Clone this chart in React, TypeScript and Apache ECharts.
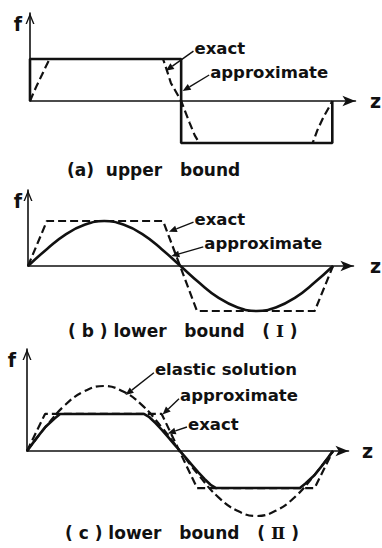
import React, { useEffect, useRef } from 'react';
import * as echarts from 'echarts';

// (a) upper bound — step approximation and exact profile, z in units of the span
const upperApprox: number[][] = [[0, 0], [0, 1], [0.5, 1], [0.5, -1], [1, -1], [1, 0]];
const upperExact: number[][] = [
  [0, 0], [0.02, 0.33], [0.04, 0.63], [0.055, 0.86], [0.065, 1],
  [0.44, 1], [0.447, 0.86], [0.466, 0.43], [0.5, 0], [0.528, -0.52], [0.545, -0.82], [0.56, -1],
  [0.935, -1], [0.951, -0.69], [0.971, -0.38], [0.99, -0.14], [1, 0],
];

// (b) lower bound (I)
const lowerApproxI: number[][] = [
  [0, 0], [0.0625, 0.38], [0.125, 0.71], [0.1875, 0.92], [0.25, 1], [0.3125, 0.92], [0.375, 0.71],
  [0.4375, 0.38], [0.5, 0], [0.5625, -0.38], [0.625, -0.71], [0.6875, -0.92], [0.75, -1],
  [0.8125, -0.92], [0.875, -0.71], [0.9375, -0.38], [1, 0],
];
const lowerExactI: number[][] = [[0, 0], [0.062, 1], [0.443, 1], [0.554, -1], [0.94, -1], [1, 0]];

// (c) lower bound (II)
const elasticSolution: number[][] = [
  [0, 0], [0.0625, 0.38], [0.125, 0.71], [0.1875, 0.92], [0.25, 1], [0.3125, 0.92], [0.375, 0.71],
  [0.4375, 0.38], [0.5, 0], [0.5625, -0.38], [0.625, -0.71], [0.6875, -0.92], [0.75, -1],
  [0.8125, -0.92], [0.875, -0.71], [0.9375, -0.38], [1, 0],
];
const lowerApproxII: number[][] = [[0, 0], [0.059, 0.57], [0.44, 0.57], [0.556, -0.57], [0.94, -0.57], [1, 0]];
const lowerExactII: number[][] = [
  [0, 0], [0.03, 0.19], [0.06, 0.37], [0.09, 0.5], [0.108, 0.57],
  [0.382, 0.57], [0.4, 0.52], [0.42, 0.43], [0.44, 0.33], [0.46, 0.22], [0.48, 0.11], [0.5, 0],
  [0.52, -0.11], [0.54, -0.22], [0.56, -0.33], [0.58, -0.43], [0.6, -0.52], [0.618, -0.57],
  [0.892, -0.57], [0.91, -0.5], [0.94, -0.37], [0.97, -0.19], [1, 0],
];

// Panel captions; the roman numerals are set in a serif face
const captions = ['(a)  upper   bound', '( b ) lower   bound   ( {r|Ⅰ} )', '( c ) lower   bound   ( {r|Ⅱ} )'];

// Leader labels: text anchor (left-middle) and arrow tip, both in data units of the panel
const notes = [
  [
    { text: 'exact', at: [0.544, 1.26], tip: [0.4495, 0.72] },
    { text: 'approximate', at: [0.596, 0.69], tip: [0.505, 0.24] },
  ],
  [
    { text: 'exact', at: [0.546, 1.04], tip: [0.462, 0.76] },
    { text: 'approximate', at: [0.578, 0.49], tip: [0.47, 0.22] },
  ],
  [
    { text: 'elastic solution', at: [0.418, 1.25], tip: [0.322, 0.86] },
    { text: 'approximate', at: [0.5, 0.85], tip: [0.443, 0.56] },
    { text: 'exact', at: [0.526, 0.415], tip: [0.46, 0.27] },
  ],
];

const FONT = '"DejaVu Sans", sans-serif';
const SERIF = '"DejaVu Serif", "Liberation Serif", serif';
const INK = '#111';

// Pixel layout of the three stacked panels
const panels = [
  { left: 30, originY: 101, unitX: 307, unitY: 42, tipY: 13, tipX: 367, zGap: 8, fPad: 8, capX: 67, capY: 170 },
  { left: 28, originY: 266, unitX: 306, unitY: 45, tipY: 190, tipX: 361, zGap: 10, fPad: 6, capX: 68, capY: 331 },
  { left: 27, originY: 451, unitX: 306, unitY: 65, tipY: 349, tipX: 355, zGap: 7, fPad: 11, capX: 65, capY: 533 },
];

const ARROW_H = 13;
const CHEVRON = 'path://M0,12 L5,0 L10,12 L8.4,12 L5,3.8 L1.6,12 Z';

export default function App() {
  const ref = useRef<HTMLDivElement>(null);

  useEffect(() => {
    const chart = echarts.init(ref.current!, null, { renderer: 'svg' });

    const grids = panels.map((p) => ({
      left: p.left,
      top: p.tipY,
      width: p.tipX - ARROW_H / 2 - p.left,
      height: p.originY - p.tipY,
    }));

    const xAxes = panels.map((p, i) => ({
      type: 'value',
      gridIndex: i,
      min: 0,
      max: grids[i].width / p.unitX,
      name: 'z',
      nameLocation: 'end',
      nameGap: p.zGap + ARROW_H / 2,
      nameTextStyle: { fontFamily: FONT, fontWeight: 'bold', fontSize: 19, color: INK, verticalAlign: 'middle' },
      axisLine: {
        show: true,
        onZero: false,
        symbol: ['none', 'arrow'],
        symbolSize: [8, ARROW_H],
        lineStyle: { color: INK, width: 1.6 },
      },
      axisTick: { show: false },
      axisLabel: { show: false },
      splitLine: { show: false },
    }));

    const yAxes = panels.map((p, i) => ({
      type: 'value',
      gridIndex: i,
      min: 0,
      max: grids[i].height / p.unitY,
      name: 'f',
      nameLocation: 'end',
      nameGap: -1,
      nameTextStyle: {
        fontFamily: FONT, fontWeight: 'bold', fontSize: 19, color: INK,
        align: 'right', verticalAlign: 'top', padding: [0, p.fPad, 0, 0],
      },
      axisLine: {
        show: true,
        onZero: false,
        symbol: ['none', CHEVRON],
        symbolSize: [9, 11],
        symbolOffset: [0, -5.5],
        lineStyle: { color: INK, width: 1.6 },
      },
      axisTick: { show: false },
      axisLabel: { show: false },
      splitLine: { show: false },
    }));

    const solid = { color: INK, width: 2.6, type: 'solid' as const };
    const dashed = { color: INK, width: 2.2, type: [8, 4] };

    const line = (name: string, idx: number, data: number[][], style: any, smooth: boolean, z: number) => ({
      name,
      type: 'line',
      xAxisIndex: idx,
      yAxisIndex: idx,
      data,
      smooth: smooth ? 0.45 : false,
      showSymbol: false,
      symbol: 'none',
      clip: false,
      lineStyle: style,
      z,
      silent: true,
    });

    chart.setOption({
      animation: false,
      backgroundColor: '#fff',
      grid: grids,
      xAxis: xAxes,
      yAxis: yAxes,
      series: [
        line('exact', 0, upperExact, dashed, false, 2),
        line('approximate', 0, upperApprox, solid, false, 3),
        line('exact', 1, lowerExactI, dashed, false, 2),
        line('approximate', 1, lowerApproxI, solid, true, 3),
        line('elastic solution', 2, elasticSolution, dashed, true, 2),
        line('approximate', 2, lowerApproxII, dashed, false, 2),
        line('exact', 2, lowerExactII, solid, false, 3),
      ],
    });

    // Leader arrows and captions, positioned through the panels' own scales
    const elements: any[] = [];
    notes.forEach((group, gi) => {
      group.forEach((n) => {
        const a = chart.convertToPixel({ gridIndex: gi }, n.at) as number[];
        const t = chart.convertToPixel({ gridIndex: gi }, n.tip) as number[];
        elements.push({
          type: 'text',
          x: a[0],
          y: a[1],
          style: { text: n.text, font: `bold 16.5px ${FONT}`, fill: INK, align: 'left', verticalAlign: 'middle' },
          z: 10,
        });
        const s = [a[0] - 1, a[1] + 3];
        const dx = t[0] - s[0];
        const dy = t[1] - s[1];
        const len = Math.hypot(dx, dy);
        const ux = dx / len;
        const uy = dy / len;
        const headL = 8;
        const headW = 3.4;
        const b = [t[0] - ux * headL, t[1] - uy * headL];
        elements.push({
          type: 'line',
          shape: { x1: s[0], y1: s[1], x2: b[0], y2: b[1] },
          style: { stroke: INK, lineWidth: 1.4 },
          z: 10,
        });
        elements.push({
          type: 'polygon',
          shape: {
            points: [
              [t[0], t[1]],
              [b[0] - uy * headW, b[1] + ux * headW],
              [b[0] + uy * headW, b[1] - ux * headW],
            ],
          },
          style: { fill: INK },
          z: 10,
        });
      });
    });
    captions.forEach((c, i) => {
      elements.push({
        type: 'text',
        x: panels[i].capX,
        y: panels[i].capY,
        style: {
          text: c,
          font: `bold 17px ${FONT}`,
          fill: INK,
          align: 'left',
          verticalAlign: 'middle',
          rich: { r: { fontFamily: SERIF, fontWeight: 'bold', fontSize: 17, fill: INK } },
        },
        z: 10,
      });
    });
    chart.setOption({ graphic: { elements } });

    return () => chart.dispose();
  }, []);

  return (
    <div
      ref={ref}
      style={{ position: 'absolute', left: 0, top: 0, width: 382, height: 548, background: '#fff' }}
    />
  );
}
